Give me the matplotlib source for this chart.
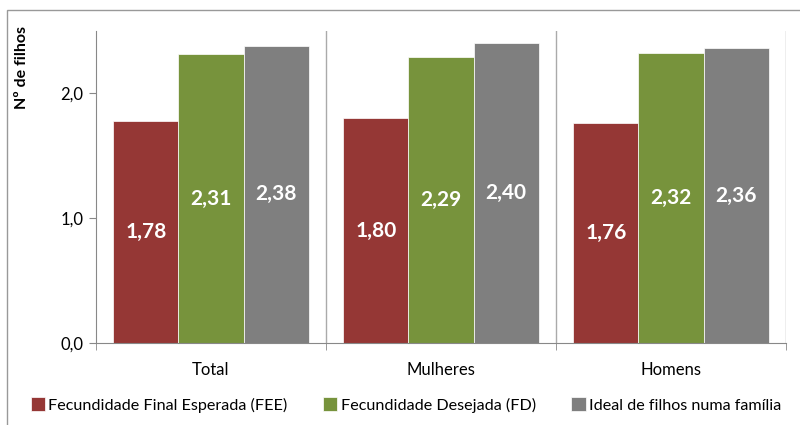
import numpy as np
import matplotlib.pyplot as plt
from matplotlib.patches import Rectangle

plt.rcParams['font.family'] = ['Lato', 'DejaVu Sans']

# data
groups = ["Total", "Mulheres", "Homens"]
series = ["Fecundidade Final Esperada (FEE)", "Fecundidade Desejada (FD)", "Ideal de filhos numa família"]
fee = [1.78, 1.80, 1.76]
fd = [2.31, 2.29, 2.32]
ideal = [2.38, 2.40, 2.36]
colors = ["#953735", "#77933C", "#7F7F7F"]

fig = plt.figure(figsize=(8, 4.25), dpi=100)
ax = fig.add_axes([0.12, 0.193, 0.8625, 0.735])

x = np.arange(len(groups))
w = 0.283
for i, (vals, c, name) in enumerate(zip([fee, fd, ideal], colors, series)):
    bars = ax.bar(x + (i - 1) * w, vals, w, color=c, label=name, edgecolor="white", linewidth=0.5)
    for b, v in zip(bars, vals):
        ax.text(b.get_x() + b.get_width() / 2, v / 2, f"{v:.2f}".replace(".", ","),
                ha="center", va="center", color="white", fontsize=15, fontweight="bold")

ax.set_xlim(-0.5, 2.5)
ax.set_ylim(0, 2.5)
ax.set_yticks([0, 1, 2])
ax.set_yticklabels(["0,0", "1,0", "2,0"], fontsize=12)
ax.set_xticks(x)
ax.set_xticklabels(groups, fontsize=12)
ax.tick_params(axis="x", length=0, pad=14)
ax.tick_params(axis="y", length=5, color="#888888", pad=4)

# category separators
for s in [0.5, 1.5, 2.5]:
    ax.axvline(s, color="#AAAAAA", linewidth=1)
ax.set_xticks([-0.5, 0.5, 1.5, 2.5], minor=True)
ax.tick_params(axis="x", which="minor", length=5, color="#888888")

for sp in ["top", "right"]:
    ax.spines[sp].set_visible(False)
ax.spines["left"].set_color("#888888")
ax.spines["bottom"].set_color("#888888")

fig.text(0.028, 0.842, "Nº de filhos", rotation=90, ha="center", va="center",
         fontsize=11.5, fontweight="bold")

fig.legend(loc="lower left", bbox_to_anchor=(0.02, -0.005), ncol=3, frameon=False,
           fontsize=11.6, handlelength=0.9, handleheight=0.9, handletextpad=0.2,
           columnspacing=2.2)

# outer chart border
fig.patches.append(Rectangle((0.009, -0.05), 1.1, 1.026, transform=fig.transFigure,
                             fill=False, edgecolor="#999999", linewidth=1))

fig.savefig("out.png", dpi=100)
